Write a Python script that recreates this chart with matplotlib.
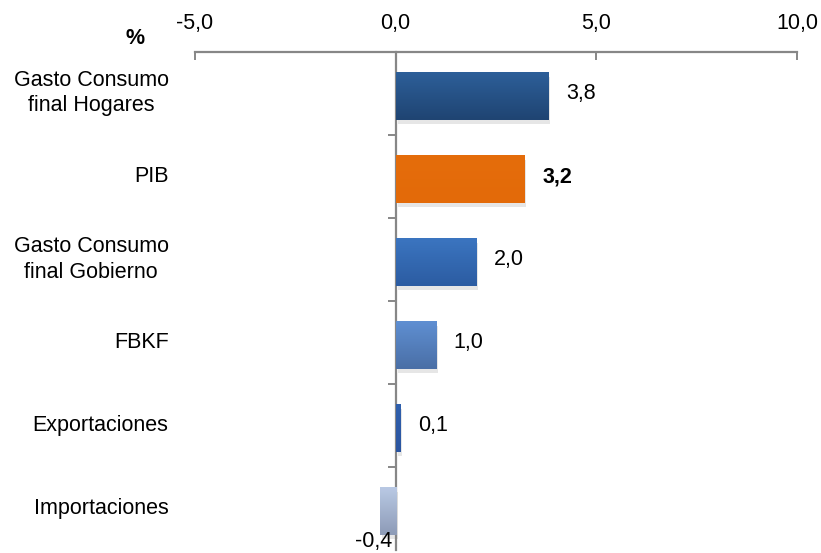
import numpy as np
import matplotlib
matplotlib.use("Agg")
import matplotlib.pyplot as plt
import matplotlib.patheffects as pe
from matplotlib.colors import LinearSegmentedColormap

categorias = ["Gasto Consumo\nfinal Hogares", "PIB", "Gasto Consumo\nfinal Gobierno",
              "FBKF", "Exportaciones", "Importaciones"]
valores = [3.8, 3.2, 2.0, 1.0, 0.1, -0.4]
etiquetas = ["3,8", "3,2", "2,0", "1,0", "0,1", "-0,4"]
colores_sup = ["#2d5f99", "#e56d0b", "#3b75c0", "#5f8fd2", "#3060ad", "#b9c9e4"]
colores_inf = ["#1f4472", "#e36a09", "#2c5ca2", "#4a6fa6", "#2b55a0", "#8d9bb7"]
xticks = [-5, 0, 5, 10]
xticklabels = ["-5,0", "0,0", "5,0", "10,0"]

plt.rcParams["font.family"] = ["Liberation Sans Narrow", "Liberation Sans", "DejaVu Sans"]

fig = plt.figure(figsize=(8.21, 5.53), dpi=100)
ax = fig.add_axes([195 / 821, 3 / 553, (797 - 195) / 821, (550 - 52) / 553])

y = np.arange(len(valores))
barras = ax.barh(y + 0.03, valores, height=0.57, color=colores_sup, zorder=2)

grad = np.linspace(0, 1, 64).reshape(-1, 1)
for b, c1, c2 in zip(barras, colores_sup, colores_inf):
    b.set_path_effects([pe.SimplePatchShadow(offset=(1.5, -3), shadow_rgbFace="#909090", alpha=0.22),
                        pe.Normal()])
    x0, y0 = b.get_x(), b.get_y()
    w, h = b.get_width(), b.get_height()
    cmap = LinearSegmentedColormap.from_list("g", [c1, c2])
    ax.imshow(grad, cmap=cmap, aspect="auto", extent=(min(x0, x0 + w), max(x0, x0 + w), y0 + h, y0),
              zorder=3, interpolation="bilinear")
ax.set_xlim(-5, 10)
ax.set_ylim(len(valores) - 0.5, -0.5)

# etiquetas de valores
for i, (v, t) in enumerate(zip(valores, etiquetas)):
    peso = "bold" if categorias[i] == "PIB" else "normal"
    if v >= 0:
        ax.annotate(t, (v, i), xytext=(13, 0), textcoords="offset points",
                    ha="left", va="center", fontsize=15.5, fontweight=peso)
    else:
        ax.annotate(t, (v, i), xytext=(-4, -24), textcoords="offset points",
                    ha="center", va="center", fontsize=15.5, fontweight=peso)

# categorias a la izquierda
for i, c in enumerate(categorias):
    ax.annotate(c, (0, i), xycoords=("axes fraction", "data"), xytext=(-19, 0),
                textcoords="offset points", ha="right", va="center",
                multialignment="center", fontsize=15.5, linespacing=1.25)

gris = "#878787"
for s in ["right", "bottom"]:
    ax.spines[s].set_visible(False)
ax.spines["left"].set_position(("data", 0))
ax.spines["left"].set_color(gris)
ax.spines["left"].set_linewidth(1.6)
ax.spines["top"].set_color(gris)
ax.spines["top"].set_linewidth(1.6)

ax.xaxis.tick_top()
ax.set_xticks(xticks)
ax.set_xticklabels(xticklabels, fontsize=15.5)
ax.tick_params(axis="x", direction="in", length=6, width=1.4, color=gris, pad=13)

ax.set_yticks([])
ax.set_yticks(np.arange(0.5, len(valores) - 0.5, 1), minor=True)
ax.tick_params(axis="y", which="minor", direction="out", length=6, width=1.4, color=gris)

fig.text(135 / 821, 1 - 38 / 553, "%", fontsize=15.5, fontweight="bold", ha="center", va="center")

fig.savefig("out.png", dpi=100)
